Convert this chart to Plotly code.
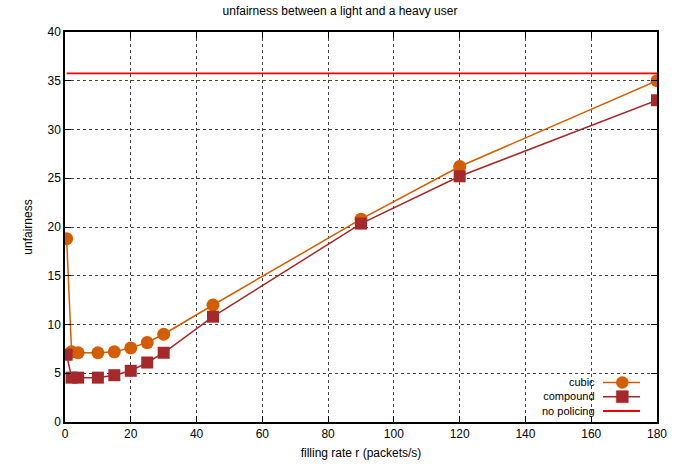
import plotly.graph_objects as go

rate = [0.5, 2, 4, 10, 15, 20, 25, 30, 45, 90, 120, 180]
cubic = [18.8, 7.2, 7.1, 7.1, 7.2, 7.6, 8.15, 9.0, 12.0, 20.8, 26.2, 35.0]
compound = [6.9, 4.55, 4.55, 4.55, 4.8, 5.25, 6.1, 7.1, 10.8, 20.35, 25.2, 33.0]
no_policing = 35.75
series_names = ["cubic", "compound", "no policing"]
x_ticks = [0, 20, 40, 60, 80, 100, 120, 140, 160, 180]
y_ticks = [0, 5, 10, 15, 20, 25, 30, 35, 40]

C_CUBIC = "#d45d00"
C_COMP = "#a5282a"
C_NOPOL = "#f00000"

fig = go.Figure()
fig.add_trace(go.Scatter(x=rate, y=cubic, mode="lines+markers", name=series_names[0],
                         line=dict(color=C_CUBIC, width=1.5),
                         marker=dict(symbol="circle", size=13, color=C_CUBIC)))
fig.add_trace(go.Scatter(x=rate, y=compound, mode="lines+markers", name=series_names[1],
                         line=dict(color=C_COMP, width=1.5),
                         marker=dict(symbol="square", size=12, color=C_COMP)))
fig.add_trace(go.Scatter(x=[rate[0], rate[-1]], y=[no_policing, no_policing], mode="lines",
                         name=series_names[2], line=dict(color=C_NOPOL, width=1.8)))

axis_common = dict(showline=True, linecolor="black", linewidth=1.5, mirror="ticks",
                   ticks="inside", ticklen=6, tickcolor="black",
                   showgrid=True, gridcolor="#444444", griddash="dot", gridwidth=1,
                   zeroline=False, tickfont=dict(size=12, color="black"), automargin=False)

fig.update_xaxes(range=[0, 180], tickvals=x_ticks,
                 title=dict(text="filling rate r (packets/s)", font=dict(size=12), standoff=8),
                 **axis_common)
fig.update_yaxes(range=[0, 40], tickvals=y_ticks,
                 title=dict(text="unfairness", font=dict(size=12), standoff=12),
                 **axis_common)

# gnuplot-style key: labels right-aligned, samples to their right (paper coords)
row_y = [0.1015, 0.0649, 0.0282]
txt_x = 0.897
seg_x0, seg_x1, mark_x = 0.9088, 0.9713, 0.9414
fig.add_annotation(text="<br>".join(series_names), xref="paper", yref="paper",
                   x=txt_x, y=row_y[1], xanchor="right", yanchor="middle", align="right",
                   showarrow=False, borderpad=0, font=dict(size=11, color="black"))
styles = [(C_CUBIC, "circle", 1.5), (C_COMP, "rect", 1.5), (C_NOPOL, None, 1.8)]
for yy, (col, mk, lw) in zip(row_y, styles):
    fig.add_shape(type="line", xref="paper", yref="paper", x0=seg_x0, x1=seg_x1,
                  y0=yy, y1=yy, line=dict(color=col, width=lw))
    if mk is not None:
        half = 6
        fig.add_shape(type=mk, xref="paper", yref="paper", xsizemode="pixel",
                      ysizemode="pixel", xanchor=mark_x, yanchor=yy,
                      x0=-half, x1=half, y0=-half, y1=half,
                      fillcolor=col, line=dict(color=col, width=0.5))

fig.update_layout(
    width=680, height=464,
    margin=dict(l=65, r=23, t=32, b=42),
    plot_bgcolor="white", paper_bgcolor="white",
    font=dict(family="Liberation Sans, Arial, sans-serif", size=12, color="black"),
    title=dict(text="unfairness between a light and a heavy user", x=0.5, xanchor="center",
               y=0.985, yanchor="top", font=dict(size=12)),
    showlegend=False,
)

fig.write_html("out.html", config={"displayModeBar": False},
               post_script="document.body.style.margin='0';")
